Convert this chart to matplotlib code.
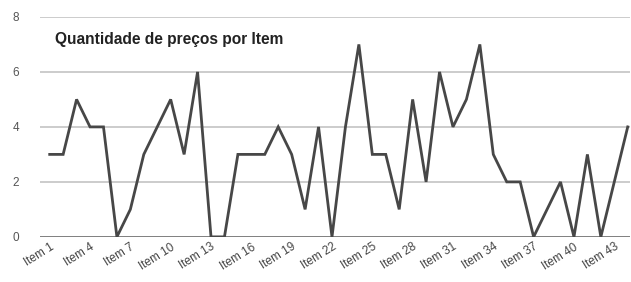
import matplotlib
matplotlib.use("Agg")
import matplotlib.pyplot as plt

plt.rcParams['font.family'] = ['Liberation Sans', 'DejaVu Sans']

items = [f"Item {i}" for i in range(1, 45)]
values = [3, 3, 5, 4, 4, 0, 1, 3, 4, 5, 3, 6, 0,
          0, 3, 3, 3, 4, 3, 1, 4, 0, 4, 7, 3, 3, 1, 5,
          2, 6, 4, 5, 7, 3, 2, 2, 0, 1, 2, 0, 3, 0, 2, 4]
yticks = [0, 2, 4, 6, 8]
title = "Quantidade de preços por Item"

fig = plt.figure(figsize=(6.31, 2.82), dpi=100)
ax = fig.add_axes([0.063, 0.16, 0.935, 0.78])
x = list(range(1, len(items) + 1))
ax.plot(x, values, color='#474747', lw=2.0, solid_joinstyle='miter', zorder=3)

ax.set_xlim(0.26, 44.15)
ax.set_ylim(0, 8)
ax.set_yticks(yticks)
ax.set_yticklabels([str(v) for v in yticks], fontsize=8.5, color='#555555')
ax.yaxis.grid(True, color='#c8c8c8', lw=1.3)
ax.axhline(0, color='#6a6a6a', lw=1.8, zorder=2)
for s in ax.spines.values():
    s.set_visible(False)
ax.tick_params(axis='y', length=0, pad=15)
ax.tick_params(axis='x', length=0, pad=3)

ax.set_xticks(x[::3])
ax.set_xticklabels(items[::3], rotation=32, ha='right', rotation_mode='anchor',
                   fontsize=8.5, color='#444444')

ax.text(0.025, 0.93, title, transform=ax.transAxes, fontsize=11.2,
        fontweight='bold', color='#222222', va='top', ha='left')

fig.savefig("out.png", dpi=100)
